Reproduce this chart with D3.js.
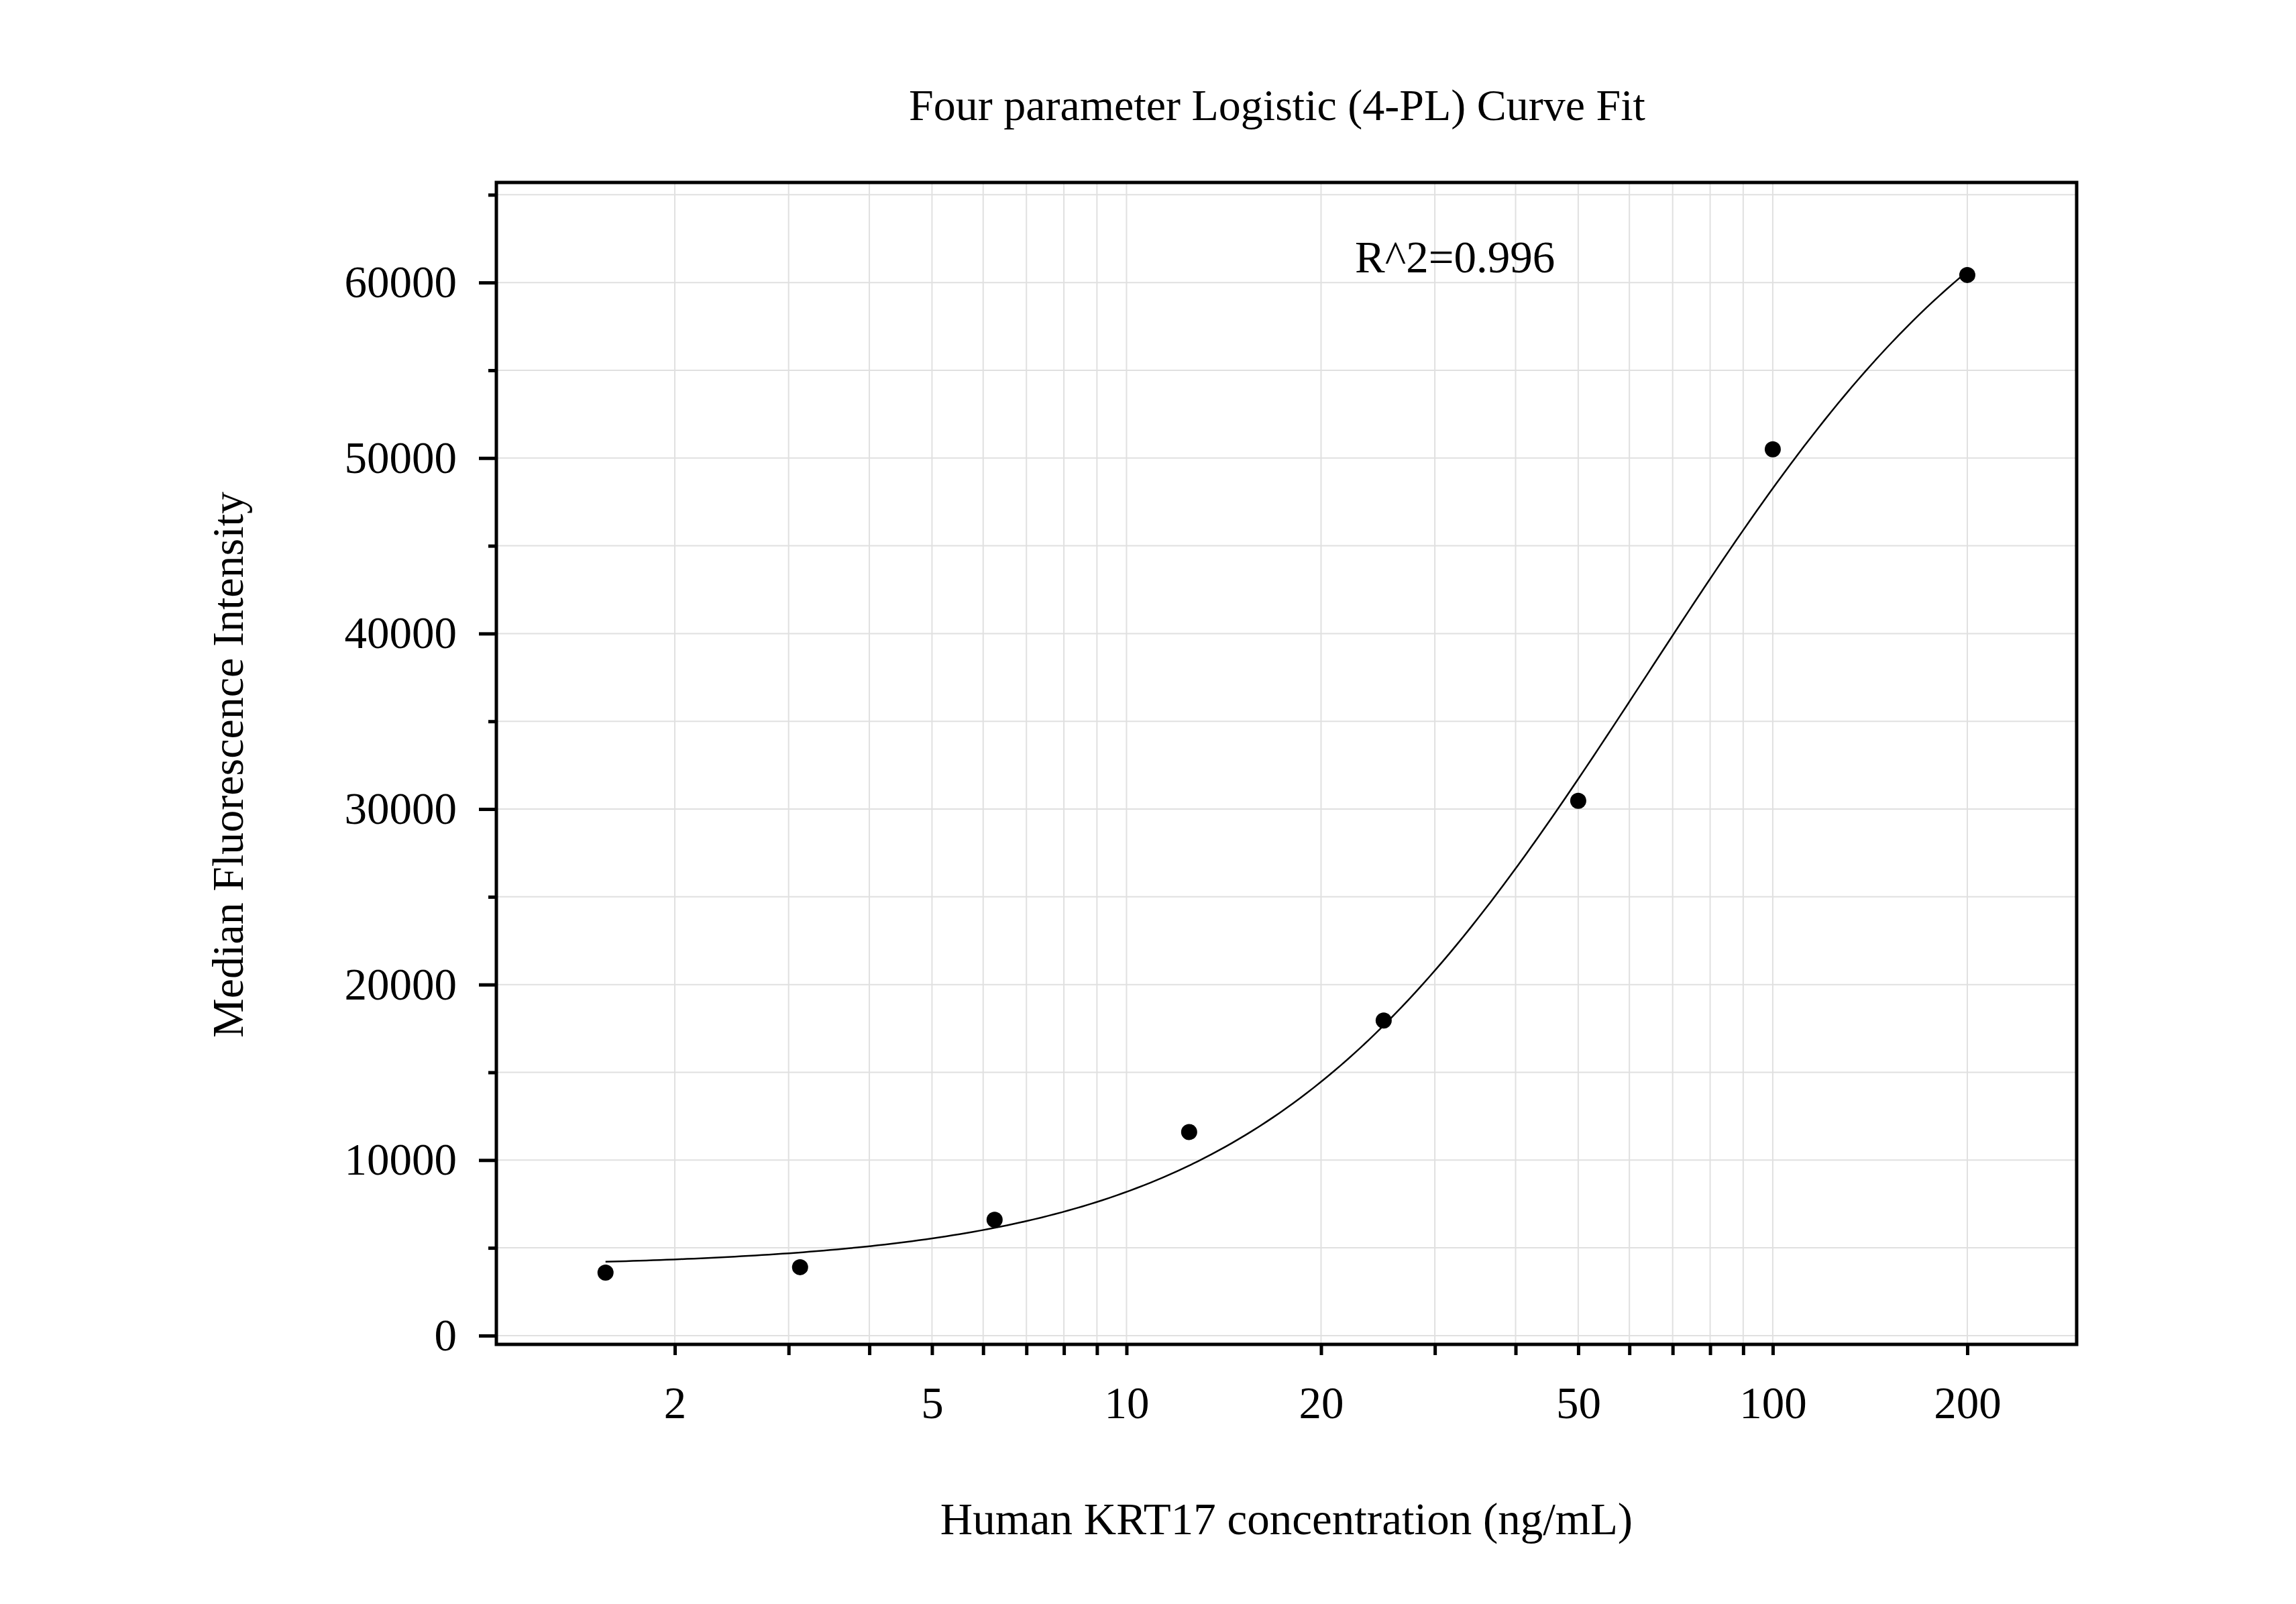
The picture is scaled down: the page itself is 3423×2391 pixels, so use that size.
<!DOCTYPE html><html><head><meta charset="utf-8"><script src="https://cdn.jsdelivr.net/npm/d3@7"></script>
<style>body{margin:0;background:#fff}text{font-family:"Liberation Serif","Times New Roman",serif}</style></head><body>
<svg id="c" width="3423" height="2391"></svg>
<script>
const xData=[1.5625,3.125,6.25,12.5,25,50,100,200];
const yData=[3590,3900,6600,11600,17950,30470,50500,60430];
const fitParams={A:3900,B:1.45,C:64,D:71500};
const xTickLabels=[2,5,10,20,50,100,200];
const yTickLabels=[0,10000,20000,30000,40000,50000,60000];
const svg=d3.select("#c");
const L=740,R=3096,T=272,B=2004;
const x=d3.scaleLog().domain([1.059,295.3]).range([L,R]);
const y=d3.scaleLinear().domain([-500,65700]).range([B,T]);
const xMinor=[];for(const d of [1,10,100])for(let k=1;k<10;k++){const v=k*d;if(v>=1.06&&v<=295)xMinor.push(v);}
const yMinor=d3.range(0,65001,5000);
const g=svg.append("g");
g.selectAll(".gx").data(xMinor).join("line").attr("x1",d=>x(d)).attr("x2",d=>x(d)).attr("y1",T).attr("y2",B).attr("stroke","#e0e0e0").attr("stroke-width",2);
g.selectAll(".gy").data(yMinor).join("line").attr("y1",d=>y(d)).attr("y2",d=>y(d)).attr("x1",L).attr("x2",R).attr("stroke","#e0e0e0").attr("stroke-width",2);
const xa=svg.append("g").attr("transform",`translate(0,${B})`).call(d3.axisBottom(x).tickValues(xMinor).tickSize(16).tickFormat(d=>xTickLabels.includes(d)?d:""));
xa.select(".domain").remove();
xa.selectAll(".tick line").attr("stroke-width",5);
xa.selectAll(".tick text").attr("font-size",67).attr("y",110).attr("dy",0).attr("font-family","Liberation Serif");
const ya=svg.append("g").attr("transform",`translate(${L},0)`).call(d3.axisLeft(y).tickValues(yMinor).tickSize(26).tickFormat(d=>yTickLabels.includes(d)?d:""));
ya.select(".domain").remove();
ya.selectAll(".tick line").attr("stroke-width",5).attr("x2",d=>yTickLabels.includes(d)?-26:-12);
ya.selectAll(".tick text").attr("font-size",67).attr("x",-59).attr("font-family","Liberation Serif");
svg.append("rect").attr("x",L).attr("y",T).attr("width",R-L).attr("height",B-T).attr("fill","none").attr("stroke","#000").attr("stroke-width",5);
const f=v=>fitParams.D+(fitParams.A-fitParams.D)/(1+Math.pow(v/fitParams.C,fitParams.B));
const cx=d3.range(0,201).map(i=>1.5625*Math.pow(200/1.5625,i/200));
svg.append("path").datum(cx).attr("d",d3.line().x(d=>x(d)).y(d=>y(f(d)))).attr("fill","none").attr("stroke","#000").attr("stroke-width",2.5);
svg.selectAll(".pt").data(xData).join("circle").attr("cx",d=>x(d)).attr("cy",(d,i)=>y(yData[i])).attr("r",12).attr("fill","#000");
svg.append("text").attr("x",1904).attr("y",179).attr("text-anchor","middle").attr("font-size",66).text("Four parameter Logistic (4-PL) Curve Fit");
svg.append("text").attr("x",2020).attr("y",406).attr("font-size",67).text("R^2=0.996");
svg.append("text").attr("x",1918).attr("y",2287).attr("text-anchor","middle").attr("font-size",67).text("Human KRT17 concentration (ng/mL)");
svg.append("text").attr("transform","translate(362,1140) rotate(-90)").attr("text-anchor","middle").attr("font-size",66).text("Median Fluorescence Intensity");
</script></body></html>
